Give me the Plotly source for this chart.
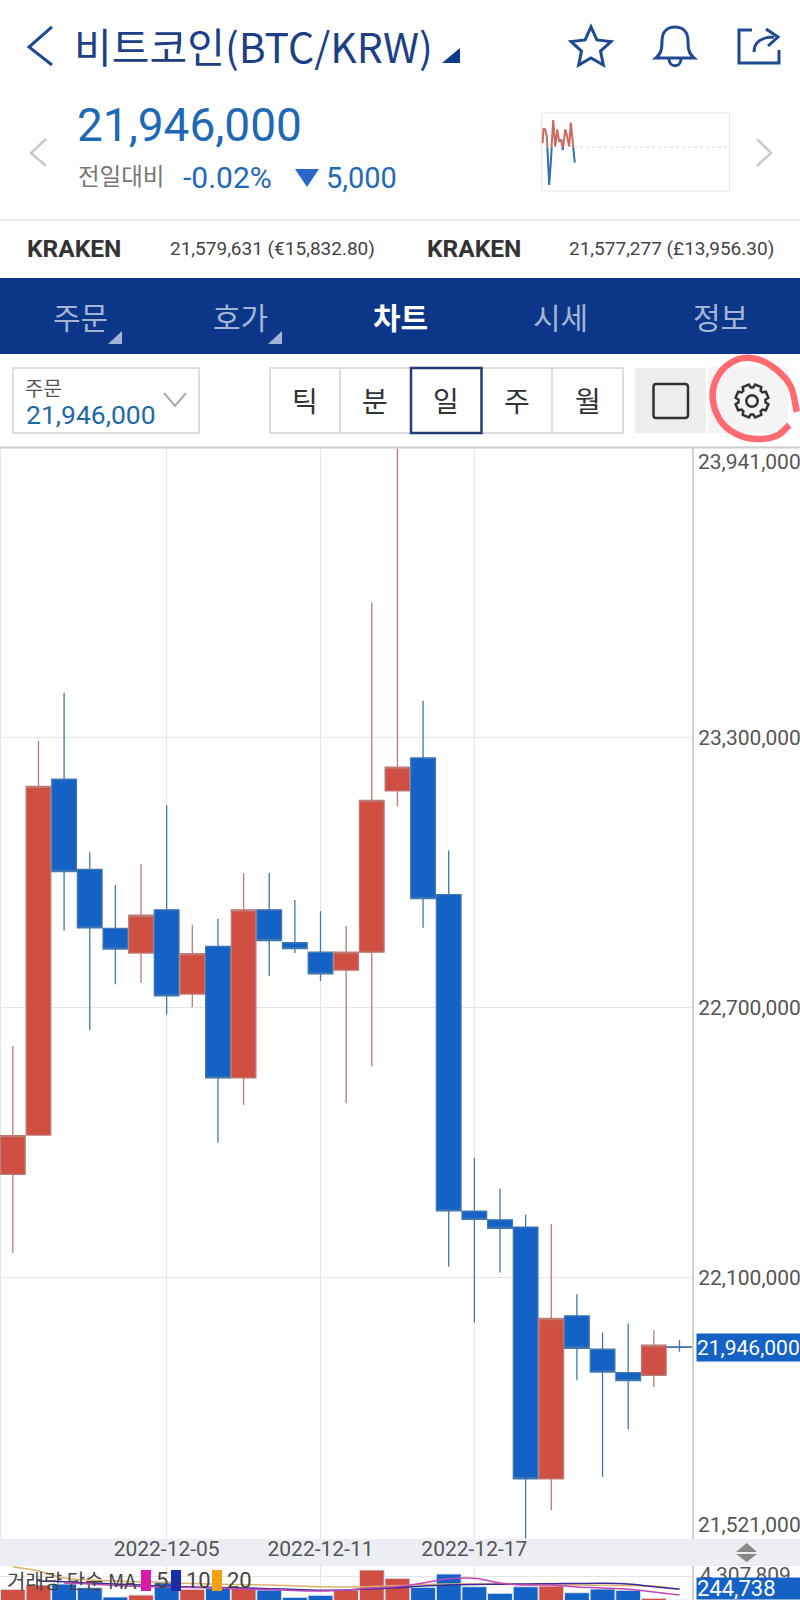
import math
import plotly.graph_objects as go

dates = ["2022-11-29", "2022-11-30", "2022-12-01", "2022-12-02", "2022-12-03", "2022-12-04", "2022-12-05",
         "2022-12-06", "2022-12-07", "2022-12-08", "2022-12-09", "2022-12-10", "2022-12-11", "2022-12-12",
         "2022-12-13", "2022-12-14", "2022-12-15", "2022-12-16", "2022-12-17", "2022-12-18", "2022-12-19",
         "2022-12-20", "2022-12-21", "2022-12-22", "2022-12-23", "2022-12-24", "2022-12-25"]
opens = [22330000, 22417000, 23207000, 23007000, 22876000, 22821000, 22917000, 22730000, 22836000, 22544000,
         22917000, 22844000, 22823000, 22783000, 22823000, 23181000, 23254000, 22951000, 22248000, 22229000,
         22213000, 21654000, 22016000, 21942000, 21890000, 21884000, 21947000]
closes = [22416000, 23191000, 23002000, 22877000, 22830000, 22905000, 22726000, 22820000, 22544000, 22917000,
          22849000, 22831000, 22775000, 22823000, 23160000, 23234000, 22942000, 22249000, 22230000, 22210000,
          21654000, 22010000, 21944000, 21891000, 21872000, 21951000, 21946000]
highs = [22615000, 23292000, 23399000, 23045000, 22972000, 23019000, 23149000, 22884000, 22897000, 22999000,
         22999000, 22939000, 22914000, 22881000, 23599000, 23941000, 23381000, 23049000, 22367000, 22298000,
         22240000, 22220000, 22064000, 21979000, 21999000, 21984000, 21962000]
lows = [22156000, 22415000, 22871000, 22650000, 22752000, 22755000, 22685000, 22701000, 22400000, 22484000,
        22770000, 22821000, 22759000, 22488000, 22570000, 23147000, 22877000, 22125000, 22001000, 22112000,
        21521000, 21585000, 21873000, 21659000, 21764000, 21858000, 21936000]
volumes = [1523000, 2037000, 2157000, 1715000, 603000, 842000, 2432000, 1523000, 1643000, 1762000,
           1440000, 567000, 806000, 1440000, 3830000, 2838000, 1762000, 3352000, 1834000, 1045000,
           1834000, 1918000, 1117000, 1559000, 1404000, 448000, 244738]
ma5 = [None, None, 2276000, 2157000, 1978000, 1858000, 1798000, 1739000, 1679000, 1559000,
       1500000, 1380000, 1320000, 1440000, 1679000, 1858000, 2276000, 2790000, 2838000, 2276000,
       2037000, 2037000, 1798000, 1679000, 1523000, 1201000, 842000]
ma10 = [None, 2515000, 2432000, 2276000, 2157000, 2037000, 1858000, 1798000, 1739000, 1679000,
        1595000, 1500000, 1404000, 1440000, 1559000, 1715000, 1918000, 2037000, 2097000, 2133000,
        2157000, 2193000, 2217000, 2240000, 2157000, 1834000, 1523000]
ma20 = [4224000, 3710000, 2874000, 2635000, 2515000, 2396000, 2312000, 2217000, 2121000, 2073000,
        2037000, 1942000, 1834000, 1798000, 1858000, 1978000, 2097000, 2157000, 2157000, 2157000,
        2097000, 2061000, 2037000, 2001000, 1966000, 1918000, 1559000]

price_ticks = [23300000, 22700000, 22100000]
price_top = 23941000
price_bottom = 21521000
volume_top = 4307809
date_ticks = ["2022-12-05", "2022-12-11", "2022-12-17"]
date_range = ["2022-11-28 12:00", "2022-12-25 12:00"]

spark_x = [1, 2, 3.7, 5.3, 7.7, 9.7, 11.7, 13.7, 15.7, 17.7, 19.7, 21.3, 23.7, 25.3, 27.7, 29.3, 31.3, 33.3]
spark_y = [21952304, 21956978, 21956870, 21954478, 21938717, 21947956, 21959913, 21951217, 21956870, 21952848,
           21953609, 21950130, 21956870, 21955022, 21951217, 21959044, 21952304, 21946000]
spark_base = 21951000
spark_high = 21962305
spark_low = 21936760

RED = "#CF4F43"
BLUE = "#1462C6"
RED_WICK = "#BE7A74"
BLUE_WICK = "#3F77AE"
NAVY = "#1F4A92"
KR = "Noto Sans CJK KR"
NUM = "Roboto"


def X(x):
    return round(x / 800, 5)


def Y(y):
    return round(1 - y / 1600, 5)


def path(points, close=False):
    s = "M" + " L".join(f"{X(x)},{Y(y)}" for x, y in points)
    return s + (" Z" if close else "")


def curve(segments):
    # segments: start point then (c1, c2, end) triples
    (x, y), rest = segments[0], segments[1:]
    s = f"M{X(x)},{Y(y)}"
    for c1, c2, e in rest:
        s += f" C{X(c1[0])},{Y(c1[1])} {X(c2[0])},{Y(c2[1])} {X(e[0])},{Y(e[1])}"
    return s


def smooth(points):
    # catmull-rom through hand drawn points
    segs = [points[0]]
    for i in range(len(points) - 1):
        p0 = points[max(i - 1, 0)]
        p1 = points[i]
        p2 = points[i + 1]
        p3 = points[min(i + 2, len(points) - 1)]
        c1 = (p1[0] + (p2[0] - p0[0]) / 6, p1[1] + (p2[1] - p0[1]) / 6)
        c2 = (p2[0] - (p3[0] - p1[0]) / 6, p2[1] - (p3[1] - p1[1]) / 6)
        segs.append((c1, c2, p2))
    return curve(segs)


shapes = []
annotations = []


def add_path(d, color=None, width=2, fill=None, layer="above", dash=None):
    line = dict(color=color or "rgba(0,0,0,0)", width=width if color else 0)
    if dash:
        line["dash"] = dash
    shapes.append(dict(type="path", xref="paper", yref="paper", path=d, line=line,
                       fillcolor=fill or "rgba(0,0,0,0)", layer=layer))


def add_rect(x0, y0, x1, y1, fill=None, color=None, width=0, layer="below"):
    shapes.append(dict(type="rect", xref="paper", yref="paper", x0=X(x0), x1=X(x1), y0=Y(y1), y1=Y(y0),
                       fillcolor=fill or "rgba(0,0,0,0)", layer=layer,
                       line=dict(color=color or "rgba(0,0,0,0)", width=width)))


def text(x, y, s, size, color, family=NUM, anchor="center", bold=False):
    annotations.append(dict(xref="paper", yref="paper", x=X(x), y=Y(y), text=f"<b>{s}</b>" if bold else s,
                            showarrow=False, xanchor=anchor, yanchor="middle",
                            font=dict(size=size, color=color, family=family)))


# header
add_path(path([(52, 27), (29, 47), (52, 65)]), NAVY, 3)
text(72, 45, "비트코인(BTC/KRW)", 41, "#1C3F85", KR, "left")
add_path(path([(460, 48), (460, 63), (442, 63)], True), fill="#0F3A8A")
star = []
for i in range(10):
    r = 21 if i % 2 == 0 else 10
    a = -math.pi / 2 + i * math.pi / 5
    star.append((591 + r * math.cos(a), 48 + r * math.sin(a)))
add_path(path(star, True), NAVY, 3)
add_path(curve([(656, 58), ((662, 53), (662, 47), (662, 41)), ((662, 31), (668, 27), (675, 27)),
                ((682, 27), (688, 31), (688, 41)), ((688, 47), (688, 53), (694, 58))]) + " Z", NAVY, 3)
add_path(curve([(669, 59), ((669, 68), (681, 68), (681, 59))]), NAVY, 3)
add_path(path([(752, 30), (739, 30), (739, 63), (779, 63), (779, 50)]), NAVY, 3)
add_path(curve([(754, 52), ((754, 42), (762, 37), (774, 37))]), NAVY, 3)
add_path(path([(766, 29), (778, 37), (768, 46)]), NAVY, 3)

add_path(path([(46, 139), (31, 153), (46, 166)]), "#C9C9C9", 2.5)
add_path(path([(757, 139), (771, 153), (757, 166)]), "#C9C9C9", 2.5)
text(75, 125, "21,946,000", 46, "#1D69B5", NUM, "left")
text(76, 175, "전일대비", 23.5, "#777777", KR, "left")
text(181, 178, "-0.02%", 30, "#1F69B5", NUM, "left")
add_path(path([(295, 169), (319, 169), (307, 187)], True), fill="#2C66C8")
text(324, 178, "5,000", 29, "#1F69B5", NUM, "left")

# mini chart frame
add_rect(541.5, 113, 729.5, 191, color="#E6E6E6", width=1)
add_path(path([(574, 147.3), (729, 147.3)]), "#E4E4E4", 1.5, dash="dot")

# exchange row
add_rect(0, 219, 800, 221, fill="#E9E9E9")
text(25, 248, "KRAKEN", 24.5, "#333333", NUM, "left", True)
text(168, 248, "21,579,631 (€15,832.80)", 19, "#444444", NUM, "left")
text(425, 248, "KRAKEN", 24.5, "#333333", NUM, "left", True)
text(567, 248, "21,577,277 (£13,956.30)", 19, "#444444", NUM, "left")

# tab bar
add_rect(0, 278, 800, 354, fill="#0C3789")
for label, cx in zip(["주문", "호가", "시세", "정보"], [80, 240, 560, 720]):
    text(cx, 316, label, 30, "#A4B4D6", KR)
text(400, 316, "차트", 30, "#FFFFFF", KR, bold=True)
add_path(path([(122, 331), (122, 344), (108, 344)], True), fill="#A4B4D6")
add_path(path([(282, 331), (282, 344), (268, 344)], True), fill="#A4B4D6")

# toolbar
add_rect(13, 368, 199, 433, color="#DDDDDD", width=2)
text(23, 387, "주문", 20, "#555555", KR, "left")
text(24, 414, "21,946,000", 26.5, "#1F69A8", NUM, "left")
add_path(path([(164, 393), (175, 406), (186, 393)]), "#AAAAAA", 2)
add_rect(270, 368, 623, 433, color="#DDDDDD", width=2)
for sx in [340, 552]:
    add_rect(sx - 1, 368, sx + 1, 433, fill="#DDDDDD")
add_rect(411, 368, 481.5, 433, color="#1F3F75", width=2.5, layer="above")
for label, cx in zip(["틱", "분", "일", "주", "월"], [305, 375, 446, 517, 588]):
    text(cx, 400, label, 28, "#333333", KR)
add_rect(635, 368, 706, 433, fill="#EEEEEE")
add_rect(708, 367, 788, 433, fill="#F4F4F4")
add_path(curve([(656, 384), ((654.5, 384), (653.5, 385), (653.5, 387)), ((653.5, 395), (653.5, 407), (653.5, 415)),
                ((653.5, 417), (654.5, 418), (656, 418)), ((665, 418), (676, 418), (685, 418)),
                ((687, 418), (688, 417), (688, 415)), ((688, 407), (688, 395), (688, 387)),
                ((688, 385), (687, 384), (685, 384))]) + " Z", "#333333", 2.5)
gear = []
for i in range(8):
    a = i * math.pi / 4 - math.pi / 8
    for da, r in [(-0.3, 13.5), (-0.2, 16.7), (0.2, 16.7), (0.3, 13.5)]:
        gear.append((752 + r * math.cos(a + da), 401 + r * math.sin(a + da)))
add_path(path(gear, True), "#333333", 2.5)
add_path(path([(752 + 5.7 * math.cos(k * math.pi / 8), 401 + 5.7 * math.sin(k * math.pi / 8)) for k in range(16)], True),
         "#333333", 2.5)
add_path(smooth([(796.7, 411.7), (790, 385), (770, 365), (748.3, 357.7), (730, 363.3), (716.7, 378.3), (712.7, 398.3),
                 (720, 420), (735, 433.3), (756.7, 439), (776.7, 435.7), (789.3, 425)]), "#FF6B70", 6.5)

# chart frame
add_rect(0, 446.5, 800, 448.5, fill="#CCCCCC")
add_rect(0, 1539, 800, 1566, fill="#ECEEF3")
add_rect(0, 449, 1, 1539, fill="#E6E6E6")
add_path(path([(736, 1552), (746.7, 1543), (757, 1552)], True), fill="#888888")
add_path(path([(736, 1554), (746.7, 1562), (757, 1554)], True), fill="#888888")

# axis end labels and value tags
text(696, 462, f"{price_top:,}", 21, "#555555", NUM, "left")
text(696, 1525, f"{price_bottom:,}", 21, "#555555", NUM, "left")
text(698, 1575, f"{volume_top:,}", 21, "#555555", NUM, "left")
annotations.append(dict(xref="paper", yref="y", x=X(696), y=closes[-1], text=f"{closes[-1]:,}", showarrow=False,
                        xanchor="left", yanchor="middle", width=104, height=27, align="left", borderpad=0,
                        bgcolor=BLUE, font=dict(size=21, color="#FFFFFF", family=NUM)))
annotations.append(dict(xref="paper", yref="paper", x=X(696), y=0, text=f"{volumes[-1]:,}", showarrow=False,
                        xanchor="left", yanchor="bottom", width=104, height=21, align="left", borderpad=0,
                        bgcolor=BLUE, font=dict(size=22, color="#FFFFFF", family=NUM)))

# volume legend
text(5, 1580, "거래량 단순 MA", 20, "#444444", KR, "left")
for x0, color, label in [(141, "#D81BA8", "5"), (171, "#1A2BA8", "10"), (212, "#F0A010", "20")]:
    add_rect(x0, 1570, x0 + 10, 1591, fill=color, layer="above")
    text(x0 + 13, 1580, label, 22, "#444444", NUM, "left")

fig = go.Figure()
fig.add_trace(go.Candlestick(
    x=dates, open=opens, high=highs, low=lows, close=closes, xaxis="x", yaxis="y",
    whiskerwidth=0,
    increasing=dict(line=dict(color=RED_WICK, width=1.3), fillcolor=RED),
    decreasing=dict(line=dict(color=BLUE_WICK, width=1.3), fillcolor=BLUE),
))
bar_colors = [RED if c > o else BLUE for o, c in zip(opens, closes)]
fig.add_trace(go.Bar(x=dates, y=volumes, xaxis="x2", yaxis="y2", marker=dict(color=bar_colors, line=dict(color="#DCE6F2", width=1))))
for series, color in [(ma20, "#D9B36A"), (ma10, "#3A2A9A"), (ma5, "#C247B8")]:
    fig.add_trace(go.Scatter(x=dates, y=series, xaxis="x2", yaxis="y2", mode="lines",
                             line=dict(color=color, width=1.5, shape="spline")))
# mini chart: same series twice, clipped above and below the previous close
fig.add_trace(go.Scatter(x=spark_x, y=spark_y, xaxis="x3", yaxis="y3", mode="lines", line=dict(color="#CC6A5F", width=2)))
fig.add_trace(go.Scatter(x=spark_x, y=spark_y, xaxis="x4", yaxis="y4", mode="lines", line=dict(color="#2F6FB0", width=2)))

hidden = dict(visible=False, fixedrange=True)
spark_dom = [X(541.5), X(729.5)]
fig.update_layout(
    width=800, height=1600, autosize=False,
    margin=dict(l=0, r=0, t=0, b=0),
    paper_bgcolor="white", plot_bgcolor="rgba(0,0,0,0)",
    showlegend=False, hovermode=False, boxgap=0.04, boxgroupgap=0, bargap=0.03,
    font=dict(family=NUM),
    shapes=shapes, annotations=annotations,
    xaxis=dict(domain=[0, X(692.3)], range=date_range, type="date", rangeslider=dict(visible=False), anchor="y",
               tickvals=date_ticks, tickformat="%Y-%m-%d", showgrid=True, gridcolor="#E6E6E6", gridwidth=1, zeroline=False,
               ticks="", ticklabelstandoff=-5, showline=False,
               tickfont=dict(size=21, color="#555555", family=NUM)),
    yaxis=dict(domain=[Y(1538.8), Y(448.5)], range=[price_bottom, price_top], side="right", anchor="x",
               tickvals=price_ticks, tickformat=",d", showgrid=True, gridcolor="#E6E6E6", zeroline=False,
               ticks="", showline=True, linecolor="#D0D0D0", linewidth=1.5,
               tickfont=dict(size=21, color="#555555", family=NUM)),
    xaxis2=dict(domain=[0, X(692.3)], range=date_range, type="date", anchor="y2", tickvals=date_ticks, showticklabels=False,
                showgrid=True, gridcolor="#E6E6E6", zeroline=False),
    yaxis2=dict(domain=[0, Y(1566)], range=[volumes[-1], volume_top], side="right", anchor="x2",
                tickvals=[3029000], showticklabels=False, showgrid=True, gridcolor="#E6E6E6", zeroline=False,
                showline=True, linecolor="#D0D0D0", linewidth=1.5),
    xaxis3=dict(domain=spark_dom, range=[0, 188], anchor="y3", **hidden),
    yaxis3=dict(domain=[Y(147.3), Y(112.7)], range=[spark_base, spark_high], anchor="x3", **hidden),
    xaxis4=dict(domain=spark_dom, range=[0, 188], anchor="y4", **hidden),
    yaxis4=dict(domain=[Y(191), Y(147.3)], range=[spark_low, spark_base], anchor="x4", **hidden),
)

fig.write_html("out.html", config=dict(displayModeBar=False),
               post_script="document.body.style.margin='0';document.body.style.overflow='hidden';")
